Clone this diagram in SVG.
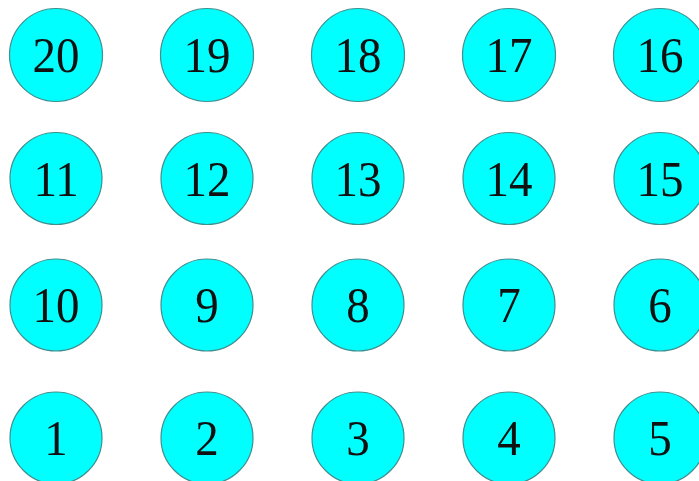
<svg xmlns="http://www.w3.org/2000/svg" width="699" height="481" viewBox="0 0 699 481">
<style>
.n circle{fill:#00ffff;stroke:#3f8f8f;stroke-width:1.2}
.n text{font-family:"Liberation Serif","Times New Roman",serif;font-size:47px;fill:#111;text-anchor:middle}
</style>
<rect width="699" height="481" fill="#fff"/>
<g id="connectors"/>
<g id="n20" class="n"><circle cx="56" cy="55" r="46.5"/><text transform="translate(56,72) scale(1,1.1)">20</text></g>
<g id="n19" class="n"><circle cx="207" cy="55" r="46.5"/><text transform="translate(207,72) scale(1,1.1)">19</text></g>
<g id="n18" class="n"><circle cx="358" cy="55" r="46.5"/><text transform="translate(358,72) scale(1,1.1)">18</text></g>
<g id="n17" class="n"><circle cx="509" cy="55" r="46.5"/><text transform="translate(509,72) scale(1,1.1)">17</text></g>
<g id="n16" class="n"><circle cx="660" cy="55" r="46.5"/><text transform="translate(660,72) scale(1,1.1)">16</text></g>
<g id="n11" class="n"><circle cx="56" cy="178.5" r="46"/><text transform="translate(56,195.5) scale(1,1.1)">11</text></g>
<g id="n12" class="n"><circle cx="207" cy="178.5" r="46"/><text transform="translate(207,195.5) scale(1,1.1)">12</text></g>
<g id="n13" class="n"><circle cx="358" cy="178.5" r="46"/><text transform="translate(358,195.5) scale(1,1.1)">13</text></g>
<g id="n14" class="n"><circle cx="509" cy="178.5" r="46"/><text transform="translate(509,195.5) scale(1,1.1)">14</text></g>
<g id="n15" class="n"><circle cx="660" cy="178.5" r="46"/><text transform="translate(660,195.5) scale(1,1.1)">15</text></g>
<g id="n10" class="n"><circle cx="56" cy="305" r="46"/><text transform="translate(56,322) scale(1,1.1)">10</text></g>
<g id="n9" class="n"><circle cx="207" cy="305" r="46"/><text transform="translate(207,322) scale(1,1.1)">9</text></g>
<g id="n8" class="n"><circle cx="358" cy="305" r="46"/><text transform="translate(358,322) scale(1,1.1)">8</text></g>
<g id="n7" class="n"><circle cx="509" cy="305" r="46"/><text transform="translate(509,322) scale(1,1.1)">7</text></g>
<g id="n6" class="n"><circle cx="660" cy="305" r="46"/><text transform="translate(660,322) scale(1,1.1)">6</text></g>
<g id="n1" class="n"><circle cx="56" cy="438" r="46"/><text transform="translate(56,455) scale(1,1.1)">1</text></g>
<g id="n2" class="n"><circle cx="207" cy="438" r="46"/><text transform="translate(207,455) scale(1,1.1)">2</text></g>
<g id="n3" class="n"><circle cx="358" cy="438" r="46"/><text transform="translate(358,455) scale(1,1.1)">3</text></g>
<g id="n4" class="n"><circle cx="509" cy="438" r="46"/><text transform="translate(509,455) scale(1,1.1)">4</text></g>
<g id="n5" class="n"><circle cx="660" cy="438" r="46"/><text transform="translate(660,455) scale(1,1.1)">5</text></g>
</svg>
